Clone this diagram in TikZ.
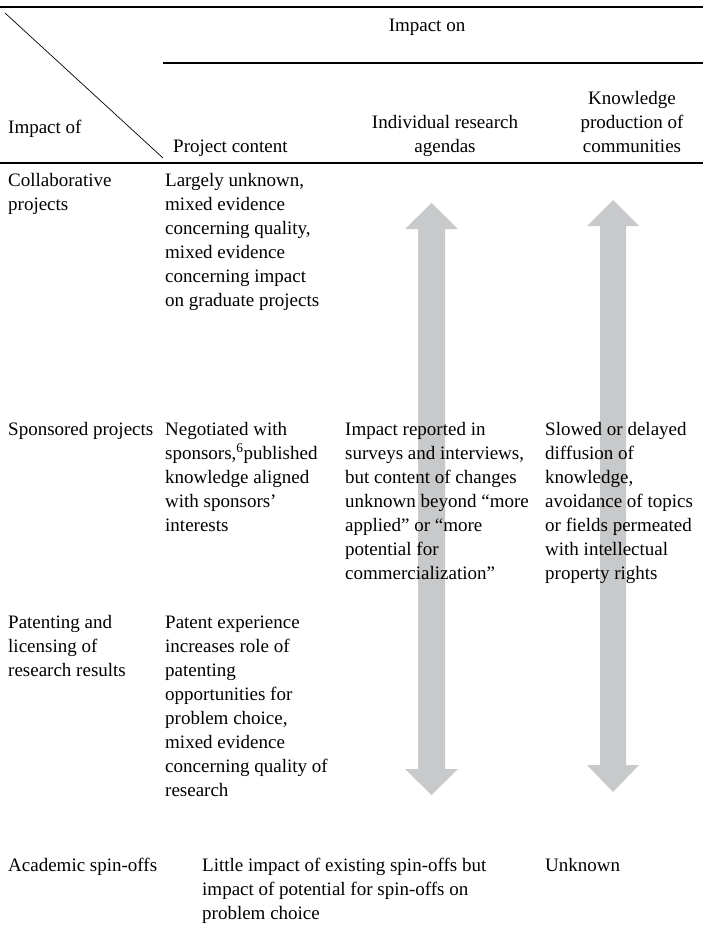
\documentclass[tikz,border=0pt]{standalone}
\usepackage{fontspec}
\setmainfont{Liberation Serif}
\definecolor{arrowgray}{RGB}{200,201,203}
\begin{document}
\begin{tikzpicture}[x=1pt,y=-1pt,
  cell/.style={anchor=base west, inner sep=0pt, align=left, font=\fontsize{19}{24}\selectfont},
  headc/.style={anchor=base, inner sep=0pt, align=center, font=\fontsize{19}{24}\selectfont},
  thickrule/.style={line width=1.7pt},
  midrule/.style={line width=1.3pt},
  diagrule/.style={line width=0.7pt},
  bigarrow/.style={fill=arrowgray, draw=none}]
\useasboundingbox (0,0) rectangle (703,940);

% rules
\coordinate (t1) at (0,7);   \coordinate (t2) at (703,7);
\coordinate (m1) at (163,63); \coordinate (m2) at (703,63);
\coordinate (b1) at (0,163); \coordinate (b2) at (703,163);
\coordinate (d1) at (5,13);  \coordinate (d2) at (163,158);
\draw[thickrule] (t1) -- (t2);
\draw[midrule] (m1) -- (m2);
\draw[thickrule] (b1) -- (b2);
\draw[diagrule] (d1) -- (d2);

% double arrows
\coordinate (la) at (431.5,203);
\fill[bigarrow] (la) -- (458,229) -- (445,229) -- (445,769) -- (458,769) -- (431.5,795)
  -- (405,769) -- (418,769) -- (418,229) -- (405,229) -- cycle;
\coordinate (ra) at (613,200);
\fill[bigarrow] (ra) -- (639,226) -- (626,226) -- (626,765) -- (639,765) -- (613,792)
  -- (587,765) -- (600,765) -- (600,226) -- (587,226) -- cycle;

% header (anchor = baseline of the last line)
\node[headc] (impon) at (427,31) {Impact on};
\node[cell] (impof) at (8,133) {Impact of};
\node[cell] (hpc) at (173,152) {Project content};
\node[headc] (hira) at (445,152) {Individual research\\agendas};
\node[headc] (hkpc) at (632,152) {Knowledge\\production of\\communities};

% row 1
\node[cell] (r1a) at (8,210) {Collaborative\\projects};
\node[cell] (r1b) at (165,306) {Largely unknown,\\mixed evidence\\concerning quality,\\mixed evidence\\concerning impact\\on graduate projects};

% row 2
\node[cell] (r2a) at (8,435) {Sponsored projects};
\node[cell] (r2b) at (165,531) {Negotiated with\\sponsors,\textsuperscript{6}published\\knowledge aligned\\with sponsors’\\interests};
\node[cell] (r2c) at (345,579) {Impact reported in\\surveys and interviews,\\but content of changes\\unknown beyond “more\\applied” or “more\\potential for\\commercialization”};
\node[cell] (r2d) at (545,579) {Slowed or delayed\\diffusion of\\knowledge,\\avoidance of topics\\or fields permeated\\with intellectual\\property rights};

% row 3
\node[cell] (r3a) at (8,676) {Patenting and\\licensing of\\research results};
\node[cell] (r3b) at (165,796) {Patent experience\\increases role of\\patenting\\opportunities for\\problem choice,\\mixed evidence\\concerning quality of\\research};

% row 4
\node[cell] (r4a) at (8,871) {Academic spin-offs};
\node[cell] (r4b) at (202,919) {Little impact of existing spin-offs but\\impact of potential for spin-offs on\\problem choice};
\node[cell] (r4c) at (545,871) {Unknown};
\end{tikzpicture}
\end{document}
